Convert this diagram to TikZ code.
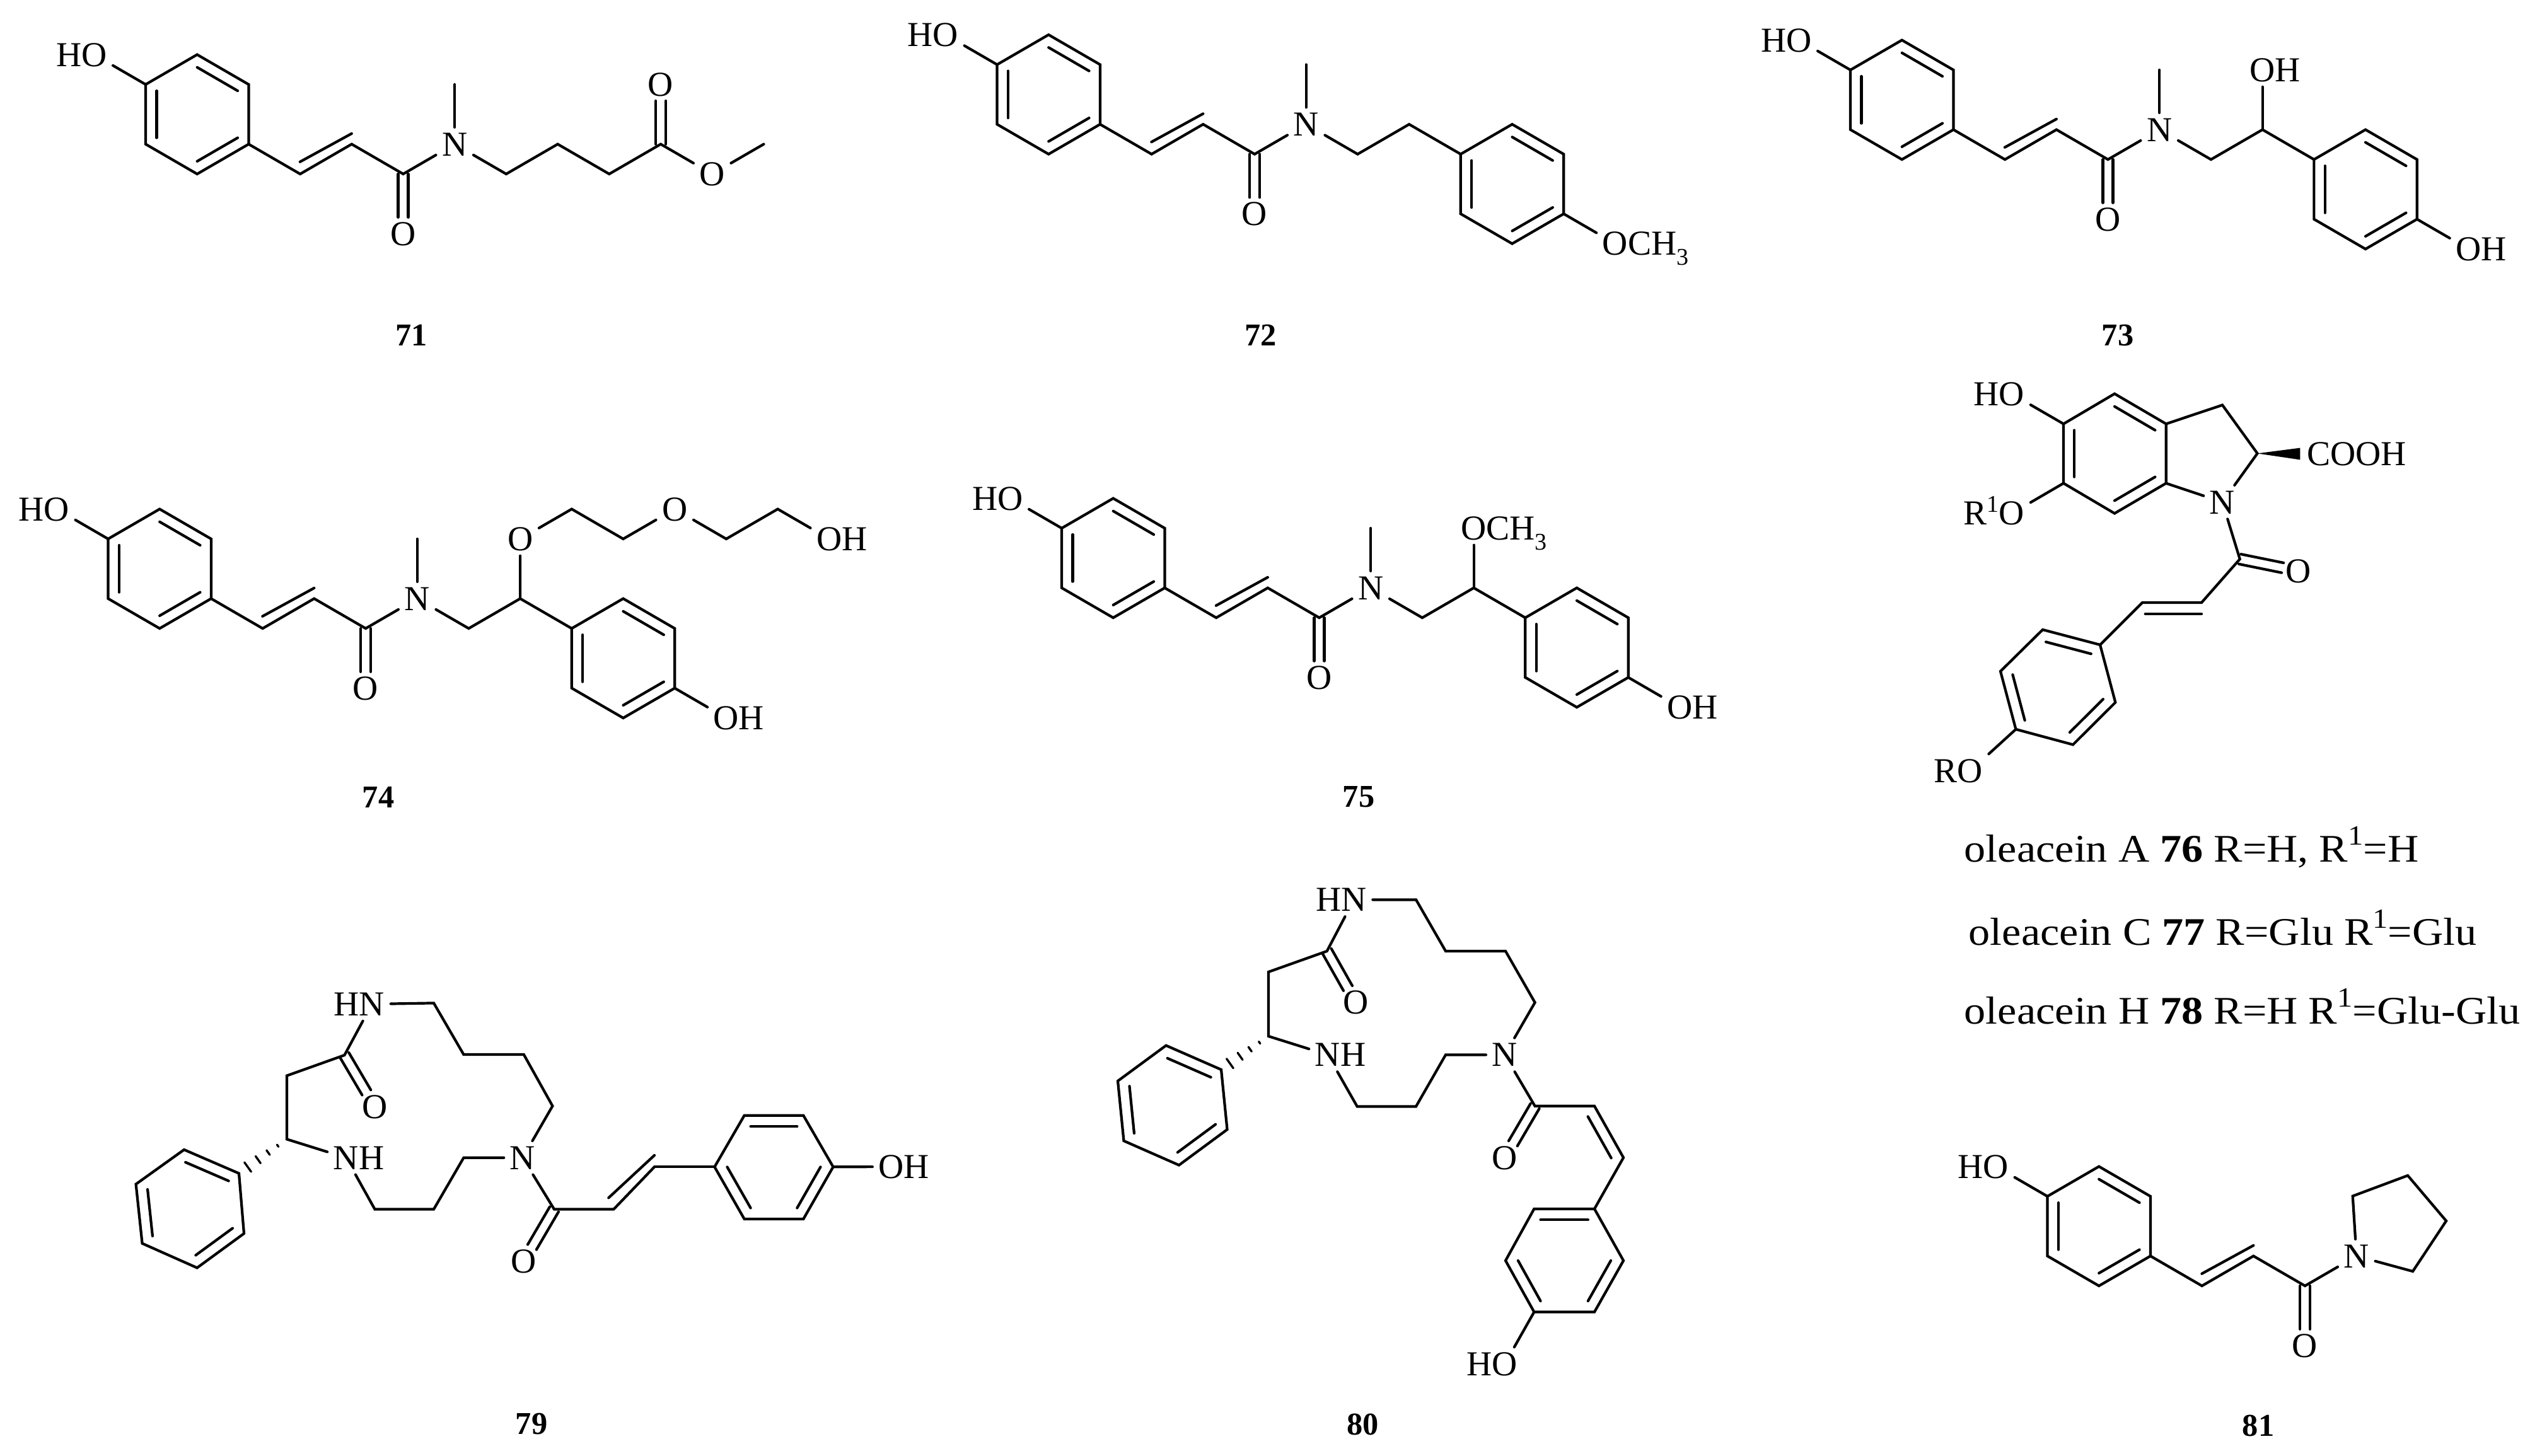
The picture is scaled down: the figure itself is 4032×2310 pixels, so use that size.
\documentclass[tikz,border=0pt]{standalone}
\usepackage{fontspec}
\setmainfont{Liberation Serif}
\newfontfamily\capfont[FakeStretch=1.1]{Liberation Serif}
\usetikzlibrary{calc}
\newcommand{\subsc}[1]{{\fontsize{9.5}{9.5}\selectfont\raisebox{-.42em}{#1}}}
\newcommand{\supsc}[1]{{\fontsize{9.5}{9.5}\selectfont\raisebox{.55em}{#1}}}
\newcommand{\capsup}[1]{{\fontsize{11}{11}\selectfont\raisebox{.6em}{#1}}}
\tikzset{
  bond/.style={line width=1.05pt,line cap=round,line join=miter},
  atomn/.style={rectangle,inner sep=0pt,minimum width=14.5pt,minimum height=13pt,
     text height=9.2pt,text depth=0pt,font=\fontsize{13.9}{14}\selectfont},
  numlabel/.style={inner sep=0pt,font=\fontsize{12.6}{14}\selectfont\bfseries},
  namelabel/.style={inner sep=0pt,anchor=base west,font=\fontsize{15.5}{17}\capfont}
}
% ring from six named vertices: double bonds 1-2, 3-4, 5-6
\newcommand{\ringdraw}[1]{%
  \coordinate (#1c) at ($(#11)!.5!(#14)$);
  \draw[bond] (#11)--(#12)--(#13)--(#14)--(#15)--(#16)--cycle;
  \draw[bond] ($(#11)!.213!(#1c)$)--($(#12)!.213!(#1c)$);
  \draw[bond] ($(#13)!.213!(#1c)$)--($(#14)!.213!(#1c)$);
  \draw[bond] ($(#15)!.213!(#1c)$)--($(#16)!.213!(#1c)$);
}
\newcommand{\uring}[3]{%
  \begin{scope}[shift={(#2,#3)}]
  \coordinate (#11) at (1,-1); \coordinate (#12) at (2,0);
  \coordinate (#13) at (2,2);  \coordinate (#14) at (1,3);
  \coordinate (#15) at (0,2);  \coordinate (#16) at (0,0);
  \end{scope}
  \ringdraw{#1}%
}
\newcommand{\hexat}[7]{%
  \coordinate (#11) at (#2); \coordinate (#12) at (#3); \coordinate (#13) at (#4);
  \coordinate (#14) at (#5); \coordinate (#15) at (#6); \coordinate (#16) at (#7);
  \ringdraw{#1}%
}
\newcommand{\Dbl}[4]{%
  \draw[bond,shorten >=#4] ($(#1)!#3!90:(#2)$)--($(#2)!#3!-90:(#1)$);
  \draw[bond,shorten >=#4] ($(#1)!#3!-90:(#2)$)--($(#2)!#3!90:(#1)$);
}
\newcommand{\innerb}[5]{%
  \draw[bond] ($(#1)!#4!(#2)!#3!90:(#2)$)--($(#1)!#5!(#2)!#3!90:(#2)$);
}
\newcommand{\hashb}[2]{%
  \foreach \tt/\ww in {.19/.5pt,.39/1.1pt,.6/1.7pt,.815/2.3pt}{
    \draw[line width=.85pt,line cap=round] ($(#1)!\tt!(#2)!\ww!90:(#2)$)--($(#1)!\tt!(#2)!\ww!-90:(#2)$);
  }%
}
\newcommand{\cinn}[1]{%
  \uring{#1r}{0}{0}
  \node[atomn] (#1ho) at (-1,-1) {\llap{H}O};
  \coordinate (#1b1) at (3,3); \coordinate (#1b2) at (4,2); \coordinate (#1b3) at (5,3);
  \node[atomn] (#1o) at (5,5) {O};
  \node[atomn] (#1n) at (6,2) {N};
  \draw[bond] (#1ho)--(#1r6);
  \draw[bond] (#1r3)--(#1b1)--(#1b2)--(#1b3)--(#1n);
  \innerb{#1b1}{#1b2}{4.2pt}{.1}{1}
  \Dbl{#1b3}{#1o}{2pt}{6.5pt}
}
\begin{document}
\begin{tikzpicture}[x=.25pt,y=-.25pt]
\useasboundingbox (0,0) rectangle (4032,2310);

% 71
\begin{scope}[shift={(231,134)},x=20.425pt,y=-11.8375pt]
  \cinn{A}
  \coordinate (Am) at (6,0);
  \coordinate (Ac1) at (7,3); \coordinate (Ac2) at (8,2); \coordinate (Ac3) at (9,3); \coordinate (Ac4) at (10,2);
  \node[atomn] (Ao2) at (10,0) {O};
  \node[atomn] (Ao3) at (11,3) {O};
  \coordinate (Ame) at (12,2);
  \draw[bond] (An)--(Am);
  \draw[bond] (An)--(Ac1)--(Ac2)--(Ac3)--(Ac4)--(Ao3)--(Ame);
  \Dbl{Ac4}{Ao2}{2pt}{6.5pt}
\end{scope}
\node[numlabel] (l71) at (652.5,532) {71};

% 72
\begin{scope}[shift={(1581.5,102.5)},x=20.425pt,y=-11.8375pt]
  \cinn{B}
  \coordinate (Bm) at (6,0);
  \coordinate (Bc1) at (7,3); \coordinate (Bc2) at (8,2);
  \uring{Bs}{9}{3}
  \node[atomn] (Bo2) at (12,6) {O\rlap{CH\subsc{3}}};
  \draw[bond] (Bn)--(Bm);
  \draw[bond] (Bn)--(Bc1)--(Bc2)--(Bs6);
  \draw[bond] (Bs3)--(Bo2);
\end{scope}
\node[numlabel] (l72) at (1999.6,532) {72};

% 73
\begin{scope}[shift={(2935,111)},x=20.425pt,y=-11.8375pt]
  \cinn{C}
  \coordinate (Cm) at (6,0);
  \coordinate (Cc1) at (7,3); \coordinate (Cc2) at (8,2);
  \node[atomn] (Co2) at (8,0) {O\rlap{H}};
  \uring{Cs}{9}{3}
  \node[atomn] (Co3) at (12,6) {O\rlap{H}};
  \draw[bond] (Cn)--(Cm);
  \draw[bond] (Cn)--(Cc1)--(Cc2)--(Cs6);
  \draw[bond] (Cc2)--(Co2);
  \draw[bond] (Cs3)--(Co3);
\end{scope}
\node[numlabel] (l73) at (3359,532) {73};

% 74
\begin{scope}[shift={(171.5,855)},x=20.425pt,y=-11.8375pt]
  \cinn{D}
  \coordinate (Dm) at (6,0);
  \coordinate (Dc1) at (7,3); \coordinate (Dc2) at (8,2);
  \node[atomn] (Do2) at (8,0) {O};
  \coordinate (Dd1) at (9,-1); \coordinate (Dd2) at (10,0);
  \node[atomn] (Do3) at (11,-1) {O};
  \coordinate (Dd3) at (12,0); \coordinate (Dd4) at (13,-1);
  \node[atomn] (Do4) at (14,0) {O\rlap{H}};
  \uring{Ds}{9}{3}
  \node[atomn] (Do5) at (12,6) {O\rlap{H}};
  \draw[bond] (Dn)--(Dm);
  \draw[bond] (Dn)--(Dc1)--(Dc2)--(Ds6);
  \draw[bond] (Dc2)--(Do2)--(Dd1)--(Dd2)--(Do3)--(Dd3)--(Dd4)--(Do4);
  \draw[bond] (Ds3)--(Do5);
\end{scope}
\node[numlabel] (l74) at (600,1264.5) {74};

% 75
\begin{scope}[shift={(1684,838)},x=20.425pt,y=-11.8375pt]
  \cinn{E}
  \coordinate (Em) at (6,0);
  \coordinate (Ec1) at (7,3); \coordinate (Ec2) at (8,2);
  \node[atomn] (Eo2) at (8,0) {O\rlap{CH\subsc{3}}};
  \uring{Es}{9}{3}
  \node[atomn] (Eo3) at (12,6) {O\rlap{H}};
  \draw[bond] (En)--(Em);
  \draw[bond] (En)--(Ec1)--(Ec2)--(Es6);
  \draw[bond] (Ec2)--(Eo2);
  \draw[bond] (Es3)--(Eo3);
\end{scope}
\node[numlabel] (l75) at (2155,1264.5) {75};

% 76-78
\hexat{Fa}{3354,624.7}{3435.7,672.5}{3435.7,766.7}{3354,814.5}{3273,766.7}{3273,672.5}
\node[atomn] (Fho) at (3191,625) {\llap{H}O};
\node[atomn] (Fro) at (3191,814.5) {\llap{R\supsc{1}}O};
\node[atomn] (Fn) at (3525,796.6) {N};
\coordinate (Fc3) at (3525,642.6);
\coordinate (Fc2) at (3580.5,719.4);
\node[atomn] (Fcooh) at (3678,720) {C\rlap{OOH}};
\draw[bond] (Fa6)--(Fho);
\draw[bond] (Fa5)--(Fro);
\draw[bond] (Fa2)--(Fc3)--(Fc2)--(Fn)--(Fa3);
\fill (Fc2)--([yshift=2.35pt]Fcooh.west)--([yshift=-2.35pt]Fcooh.west)--cycle;
\coordinate (Fk) at (3552.7,887);
\node[atomn] (Fo) at (3646,906) {O};
\coordinate (Fv1) at (3492,956);
\coordinate (Fv2) at (3398,956);
\hexat{Fb}{3240,999}{3331,1023}{3355.3,1114.4}{3288,1181.4}{3197.4,1157}{3173,1065}
\draw[bond] (Fn)--(Fk)--(Fv1)--(Fv2)--(Fb2);
\Dbl{Fk}{Fo}{2pt}{6.5pt}
\innerb{Fv2}{Fv1}{-4.5pt}{.05}{1}
\node[atomn] (Fr) at (3125,1223) {\llap{R}O};
\draw[bond] (Fb5)--(Fr);
\node[namelabel] (t76) at (3115,1367) {oleacein A \textbf{76} R=H, R\capsup{1}=H};
\node[namelabel] (t77) at (3122,1499) {oleacein C \textbf{77} R=Glu R\capsup{1}=Glu};
\node[namelabel] (t78) at (3115,1624) {oleacein H \textbf{78} R=H R\capsup{1}=Glu-Glu};

% 79
\node[atomn] (Ghn) at (590,1593) {\llap{H}N};
\coordinate (G1) at (688,1591.4);
\coordinate (G2) at (735.4,1673);
\coordinate (G3) at (830.8,1673);
\coordinate (G4) at (876.4,1754.7);
\node[atomn] (Gn) at (829,1836.8) {N};
\coordinate (G5) at (735.4,1836.8);
\coordinate (G6) at (688,1918.5);
\coordinate (G7) at (594.5,1918.5);
\node[atomn] (Gnh) at (549,1836.8) {N\rlap{H}};
\coordinate (G8) at (455,1807.4);
\coordinate (G9) at (455,1706.6);
\coordinate (G10) at (546.4,1674);
\node[atomn] (Go1) at (594.5,1755.7) {O};
\coordinate (G11) at (879,1918.5);
\node[atomn] (Go2) at (830.8,2001) {O};
\coordinate (G12) at (973.4,1918.5);
\coordinate (G13) at (1038,1851.3);
\draw[bond] (Ghn)--(G1)--(G2)--(G3)--(G4)--(Gn)--(G5)--(G6)--(G7)--(Gnh)--(G8)--(G9)--(G10)--(Ghn);
\draw[bond] (Gn)--(G11)--(G12)--(G13);
\Dbl{G10}{Go1}{2pt}{6.5pt}
\Dbl{G11}{Go2}{2pt}{6.5pt}
\innerb{G12}{G13}{4.6pt}{.08}{1}
\hexat{Gr}{1180.6,1769.7}{1274.3,1769.7}{1321.5,1851.3}{1274.3,1934}{1180.6,1934}{1133.4,1851.3}
\draw[bond] (G13)--(Gr6);
\node[atomn] (Goh) at (1413.6,1851) {O\rlap{H}};
\draw[bond] (Gr3)--(Goh);
\hexat{Gp}{292,1824}{379,1861.6}{387,1957}{312.6,2011.4}{225.6,1972.7}{215.6,1878.7}
\hashb{G8}{Gp2}
\node[numlabel] (l79) at (843,2259) {79};

% 80
\node[atomn] (Hhn) at (2147.5,1427.4) {\llap{H}N};
\coordinate (H1) at (2246,1427.4);
\coordinate (H2) at (2293,1509);
\coordinate (H3) at (2388,1509);
\coordinate (H4) at (2434.6,1590.5);
\node[atomn] (Hn) at (2386.7,1673.5) {N};
\coordinate (H5) at (2293,1673.5);
\coordinate (H6) at (2246,1755.4);
\coordinate (H7) at (2152.6,1755.4);
\node[atomn] (Hnh) at (2106,1673.5) {N\rlap{H}};
\coordinate (H8) at (2012,1644);
\coordinate (H9) at (2012,1542);
\coordinate (H10) at (2104.7,1509);
\node[atomn] (Ho1) at (2150.7,1590.5) {O};
\coordinate (H11) at (2434.6,1754.8);
\node[atomn] (Ho2) at (2386.7,1836.6) {O};
\coordinate (H12) at (2529,1754.8);
\coordinate (H13) at (2575,1836.6);
\draw[bond] (Hhn)--(H1)--(H2)--(H3)--(H4)--(Hn)--(H5)--(H6)--(H7)--(Hnh)--(H8)--(H9)--(H10)--(Hhn);
\draw[bond] (Hn)--(H11)--(H12)--(H13);
\Dbl{H10}{Ho1}{2pt}{6.5pt}
\Dbl{H11}{Ho2}{2pt}{6.5pt}
\innerb{H12}{H13}{-4.3pt}{.1}{.905}
\hexat{Hr}{2433.3,1917.9}{2529,1917.9}{2575,2000}{2529,2081.5}{2433.3,2081.5}{2388,2000}
\draw[bond] (H13)--(Hr2);
\node[atomn] (Hoh) at (2386.7,2164) {\llap{H}O};
\draw[bond] (Hr5)--(Hoh);
\hexat{Hp}{1849.5,1658.7}{1937,1697}{1946.5,1792}{1870,1848.5}{1782.5,1810}{1773,1715}
\hashb{H8}{Hp2}
\node[numlabel] (l80) at (2161.4,2259.5) {80};

% 81
\begin{scope}[shift={(3247.5,1898)},x=20.425pt,y=-11.8375pt]
  \cinn{J}
\end{scope}
\coordinate (Jq1) at (3731.7,1897.6);
\coordinate (Jq2) at (3819,1865);
\coordinate (Jq3) at (3880,1937);
\coordinate (Jq4) at (3827,2017);
\draw[bond] (Jn)--(Jq1)--(Jq2)--(Jq3)--(Jq4)--(Jn);
\node[numlabel] (l81) at (3582,2262) {81};
\end{tikzpicture}
\end{document}
